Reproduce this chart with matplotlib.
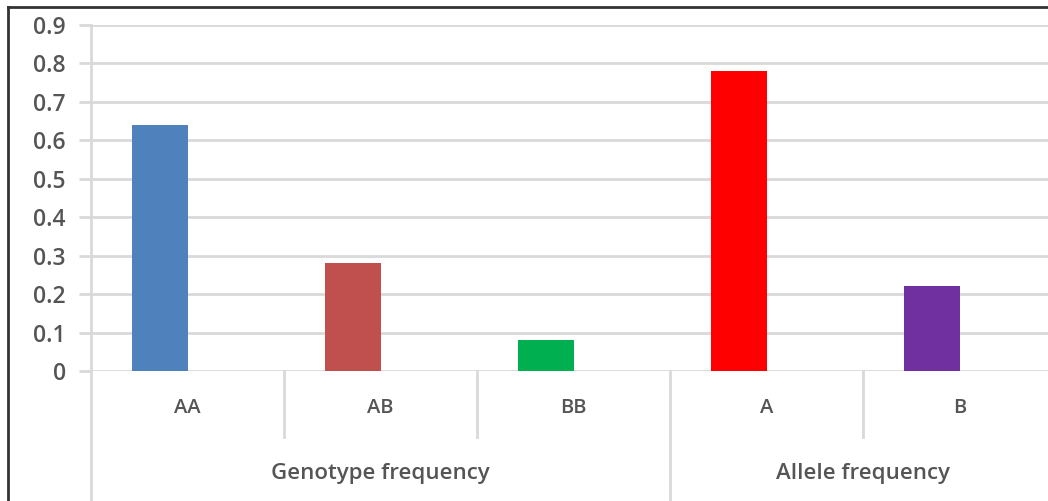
#!/usr/bin/env python3
import matplotlib
matplotlib.use('Agg')
import matplotlib.pyplot as plt
from matplotlib.lines import Line2D

plt.rcParams['font.family'] = ['Open Sans', 'DejaVu Sans']

categories = ['AA', 'AB', 'BB', 'A', 'B']
values = [0.64, 0.28, 0.08, 0.78, 0.22]
colors = ['#4F81BD', '#C0504D', '#00B050', '#FF0000', '#7030A0']
groups = ['Genotype frequency', 'Allele frequency']
group_spans = [(0, 2), (3, 4)]
yticks = [0, 0.1, 0.2, 0.3, 0.4, 0.5, 0.6, 0.7, 0.8, 0.9]

W, H = 1048, 501
fig = plt.figure(figsize=(W / 100, H / 100), dpi=100)
ax = fig.add_axes([91 / W, 1 - 371 / H, (1056 - 91) / W, (371 - 25) / H])

grey = '#555555'
gridc = '#D9D9D9'

x = list(range(len(categories)))
ax.bar(x, values, width=-0.285, align='edge', color=colors, zorder=3)

ax.set_xlim(-0.5, len(categories) - 0.5)
ax.set_ylim(0, 0.9)
ax.set_yticks(yticks)
ax.set_yticklabels(['0' if v == 0 else f'{v:.1f}' for v in yticks],
                   fontsize=16.5, color=grey, fontweight='semibold')
ax.tick_params(axis='y', length=9, width=2, color=gridc, pad=9)
ax.set_xticks([])
for v in yticks:
    ax.axhline(v, color=gridc, lw=2, zorder=1)

for s in ax.spines.values():
    s.set_visible(False)

tr = ax.get_xaxis_transform()
below = -(501 - 371) / (371 - 25)
short = -(437 - 371) / (371 - 25)
# left axis line down through the label area
ax.add_line(Line2D([-0.5, -0.5], [1, below], transform=tr, color=gridc,
                   lw=2, clip_on=False, zorder=2))
for i in range(len(categories) - 1):
    sep = i + 0.5
    bottom = below if i == 2 else short
    ax.add_line(Line2D([sep, sep], [0, bottom], transform=tr, color=gridc,
                       lw=2, clip_on=False))

lab_y = -(408 - 371) / (371 - 25)
for xi, c in zip(x, categories):
    ax.text(xi, lab_y, c, transform=tr, ha='center', va='center',
            fontsize=14.5, color=grey, fontweight='semibold')

grp_y = -(473 - 371) / (371 - 25)
for g, (a, b) in zip(groups, group_spans):
    ax.text((a + b) / 2, grp_y, g, transform=tr, ha='center', va='center',
            fontsize=16, color=grey, fontweight='semibold')

# black frame at top and left of the picture
fig.add_artist(Line2D([8 / W, 8 / W], [0, 1 - 7 / H], color='#333333', lw=2))
fig.add_artist(Line2D([8 / W, 1], [1 - 7 / H, 1 - 7 / H], color='#333333', lw=2))

fig.savefig('out.png', dpi=100)
